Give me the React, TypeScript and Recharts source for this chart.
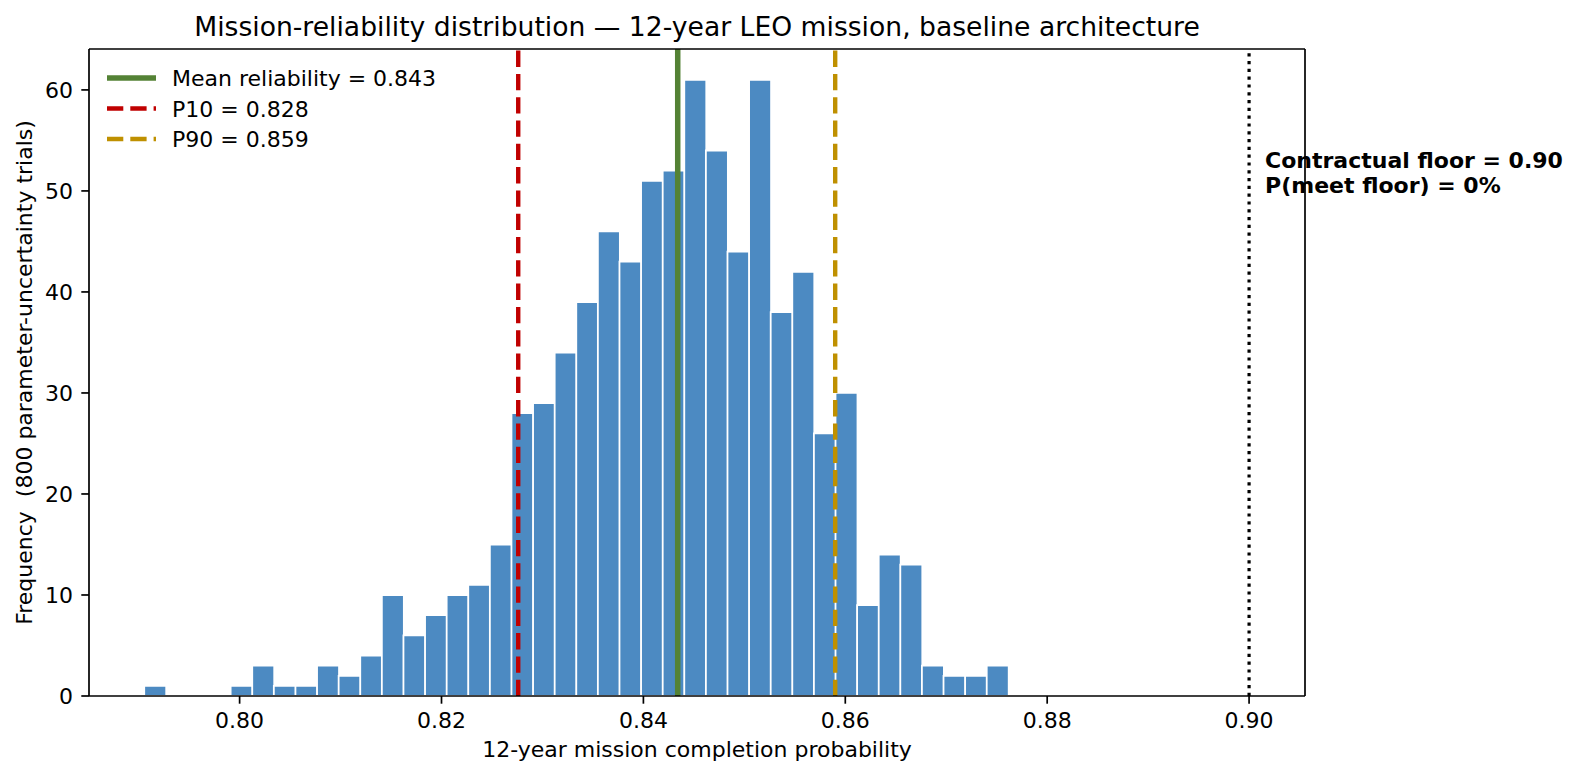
import React from 'react'
import {
  ComposedChart, Bar, XAxis, YAxis, ReferenceLine, Legend,
} from 'recharts'

// histogram of 800 trials, 40 equal bins
const BIN_START = 0.79055
const BIN_WIDTH = 0.00214
const BIN_COUNTS = [
  1, 0, 0, 0, 1, 3, 1, 1, 3, 2,
  4, 10, 6, 8, 10, 11, 15, 28, 29, 34,
  39, 46, 43, 51, 52, 61, 54, 44, 61, 38,
  42, 26, 30, 9, 14, 13, 3, 2, 2, 3,
]

const MEAN = 0.8434
const P10 = 0.8276
const P90 = 0.859
const FLOOR = 0.9
const P_MEET = 0

const X_DOMAIN: [number, number] = [0.78508, 0.90554]
const Y_DOMAIN: [number, number] = [0, 64.05]
const X_TICKS = [0.8, 0.82, 0.84, 0.86, 0.88, 0.9]
const Y_TICKS = [0, 10, 20, 30, 40, 50, 60]

const TITLE = 'Mission-reliability distribution — 12-year LEO mission, baseline architecture'
const X_LABEL = '12-year mission completion probability'
const Y_LABEL = 'Frequency  (800 parameter-uncertainty trials)'

const GREEN = '#548235'
const RED = '#C00000'
const GOLD = '#BF9000'
const BLUE = '#4C8AC2'
const FONT = '"DejaVu Sans", Verdana, sans-serif'

const data = BIN_COUNTS.map((count, i) => ({
  x: BIN_START + (i + 0.5) * BIN_WIDTH,
  count,
}))

const legendItems = [
  { label: `Mean reliability = ${MEAN.toFixed(3)}`, color: GREEN, width: 5.5, dash: undefined },
  { label: `P10 = ${P10.toFixed(3)}`, color: RED, width: 4.4, dash: '16.3 7' },
  { label: `P90 = ${P90.toFixed(3)}`, color: GOLD, width: 4.4, dash: '16.3 7' },
]

function LegendBox() {
  return (
    <svg width={480} height={170} style={{ display: 'block', fontFamily: FONT }}>
      {legendItems.map((it, i) => {
        const y = 78 + i * 30.5
        return (
          <g key={it.label}>
            <line x1={107} x2={156} y1={y} y2={y} stroke={it.color}
              strokeWidth={it.width} strokeDasharray={it.dash} />
            <text x={172} y={y + 8} fontSize={22} fill="#000">{it.label}</text>
          </g>
        )
      })}
    </svg>
  )
}

const axisStroke = { stroke: '#000', strokeWidth: 1.7 }

export default function App() {
  return (
    <div style={{ position: 'absolute', left: 0, top: 0, background: '#fff' }}>
      <ComposedChart
        width={1583} height={776} data={data}
        margin={{ top: 49, right: 278, bottom: 50, left: 29 }}
        barCategoryGap={0}
        style={{ fontFamily: FONT }}
      >
        <XAxis
          dataKey="x" type="number" domain={X_DOMAIN} ticks={X_TICKS} interval={0}
          allowDataOverflow
          tickFormatter={(v: number) => v.toFixed(2)}
          tick={{ fill: '#000', fontSize: 22 }}
          axisLine={axisStroke} tickLine={axisStroke}
          tickSize={7.7} tickMargin={8.7} height={30}
          label={(p: any) => {
            const vb = p.viewBox
            return (
              <text x={vb.x + vb.width / 2} y={757} textAnchor="middle" fontSize={22} fill="#000">
                {X_LABEL}
              </text>
            )
          }}
        />
        <YAxis
          type="number" domain={Y_DOMAIN} ticks={Y_TICKS} interval={0}
          allowDataOverflow
          tick={{ fill: '#000', fontSize: 22 }}
          axisLine={axisStroke} tickLine={axisStroke}
          tickSize={7.7} tickMargin={8.3} width={60}
          label={(p: any) => {
            const vb = p.viewBox
            const cy = vb.y + vb.height / 2
            return (
              <text x={32} y={cy} transform={`rotate(-90 32 ${cy})`} textAnchor="middle"
                fontSize={22} fill="#000" style={{ whiteSpace: 'pre' }}>
                {Y_LABEL}
              </text>
            )
          }}
        />
        <Legend
          layout="horizontal" verticalAlign="middle" align="center"
          wrapperStyle={{ left: 0, top: 0, width: 480, height: 170 }}
          content={() => <LegendBox />}
        />
        <Bar dataKey="count" fill={BLUE} stroke="#fff" strokeWidth={1.8}
          isAnimationActive={false} />

        <ReferenceLine x={MEAN} stroke={GREEN} strokeWidth={5.5} />
        <ReferenceLine x={P10} stroke={RED} strokeWidth={4.4} strokeDasharray="16.3 7" />
        <ReferenceLine x={P90} stroke={GOLD} strokeWidth={4.4} strokeDasharray="16.3 7" />
        <ReferenceLine
          x={FLOOR} stroke="#000" strokeWidth={3.2} strokeDasharray="3.2 4.6"
          label={(p: any) => {
            const vb = p.viewBox
            return (
              <text x={vb.x + 16} y={vb.y + 119} fontSize={22} fontWeight="bold" fill="#000">
                <tspan x={vb.x + 16}>{`Contractual floor = ${FLOOR.toFixed(2)}`}</tspan>
                <tspan x={vb.x + 16} dy={24.5}>{`P(meet floor) = ${P_MEET}%`}</tspan>
              </text>
            )
          }}
        />

        {/* top and right spines, title hangs off the top one */}
        <ReferenceLine
          y={Y_DOMAIN[1]} {...axisStroke}
          label={(p: any) => {
            const vb = p.viewBox
            return (
              <text x={vb.x + vb.width / 2} y={vb.y - 13} textAnchor="middle"
                fontSize={26.6} fill="#000">
                {TITLE}
              </text>
            )
          }}
        />
        <ReferenceLine x={X_DOMAIN[1]} {...axisStroke} />
      </ComposedChart>
    </div>
  )
}
